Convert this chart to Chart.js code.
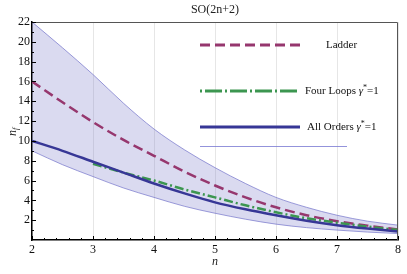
<!DOCTYPE html>
<html lang="en">
<head>
  <meta charset="UTF-8">
  <title>SO(2n+2)</title>
  <script src="https://cdn.jsdelivr.net/npm/chart.js@4.4.0/dist/chart.umd.min.js"></script>
  <style>
    html, body { margin: 0; padding: 0; background: #fff; }
    #chart { display: block; }
  </style>
</head>
<body>
<canvas id="chart" width="407" height="274"></canvas>

<script>
// values
const nValues   = [2, 2.5, 3, 3.5, 4, 4.5, 5, 5.5, 6, 6.5, 7, 7.5, 8];
const bandUpper = [22, 19.4, 16.7, 13.8, 11.2, 9.1, 7.3, 5.7, 4.3, 3.3, 2.5, 1.9, 1.5];
const bandLower = [9.0, 7.6, 6.4, 5.25, 4.3, 3.4, 2.7, 2.1, 1.6, 1.25, 1.0, 0.8, 0.65];
const ladder    = [16, 13.9, 11.9, 10.1, 8.5, 6.9, 5.5, 4.3, 3.3, 2.5, 1.9, 1.45, 1.05];
const fourLoops = [null, null, 7.7, 6.8, 6.0, 5.1, 4.3, 3.5, 2.8, 2.2, 1.75, 1.35, 1.0];
const allOrders = [10, 9.0, 7.9, 6.8, 5.7, 4.7, 3.8, 3.1, 2.5, 1.95, 1.5, 1.15, 0.85];
const xTicks = [2, 3, 4, 5, 6, 7, 8];
const yTicks = [2, 4, 6, 8, 10, 12, 14, 16, 18, 20, 22];

const colLadder = 'rgb(150,55,110)';
const colFour = 'rgb(60,150,80)';
const colAll = 'rgb(55,55,150)';

function pts(ys) {
  const out = [];
  nValues.forEach((n, i) => { if (ys[i] !== null) out.push({x: n, y: ys[i]}); });
  return out;
}

const serif = '"Liberation Serif", "DejaVu Serif", serif';

// title, axis names, frame, inner ticks and the legend box
const decor = {
  id: 'decor',
  afterDraw(chart) {
    const c = chart.ctx;
    const a = chart.chartArea;
    const xs = chart.scales.x, ys = chart.scales.y;
    c.save();

    // top and right frame
    c.strokeStyle = '#555';
    c.lineWidth = 1;
    c.beginPath();
    c.moveTo(a.left, a.top + 0.5);
    c.lineTo(a.right - 0.5, a.top + 0.5);
    c.lineTo(a.right - 0.5, a.bottom);
    c.stroke();

    // inward ticks
    c.strokeStyle = '#000';
    c.lineWidth = 1;
    c.beginPath();
    for (let v = 2; v <= 8.001; v += 0.2) {
      const px = Math.round(xs.getPixelForValue(v)) + 0.5;
      const major = Math.abs(v - Math.round(v)) < 0.01;
      c.moveTo(px, a.bottom);
      c.lineTo(px, a.bottom - (major ? 4 : 2));
    }
    for (let v = 1; v <= 22; v += 1) {
      const py = Math.round(ys.getPixelForValue(v)) + 0.5;
      c.moveTo(a.left, py);
      c.lineTo(a.left + (v % 2 === 0 ? 4 : 2), py);
    }
    c.stroke();

    // title
    c.fillStyle = '#222';
    c.font = '12px ' + serif;
    c.textAlign = 'center';
    c.textBaseline = 'middle';
    c.fillText('SO(2n+2)', 215, 10);

    // x axis name
    c.font = 'italic 12px ' + serif;
    c.fillText('n', 215, 262);

    // y axis name n_f
    c.translate(13, 131);
    c.rotate(-Math.PI / 2);
    c.textAlign = 'left';
    c.fillText('n', -5, 0);
    c.font = 'italic 8px ' + serif;
    c.fillText('f', 1, 3);
    c.setTransform(1, 0, 0, 1, 0, 0);

    // legend
    function sample(y, color, dash, width) {
      c.strokeStyle = color;
      c.lineWidth = width;
      c.setLineDash(dash);
      c.beginPath();
      c.moveTo(200, y);
      c.lineTo(300, y);
      c.stroke();
      c.setLineDash([]);
    }
    sample(45, colLadder, [10, 5], 3);
    sample(91, colFour, [2, 3, 17, 3], 3);
    sample(127, colAll, [], 3);
    c.strokeStyle = 'rgba(120,120,210,0.8)';
    c.lineWidth = 1;
    c.beginPath();
    c.moveTo(200, 146.5);
    c.lineTo(347, 146.5);
    c.stroke();

    c.fillStyle = '#111';
    c.textAlign = 'left';
    c.textBaseline = 'middle';
    c.font = '11px ' + serif;
    c.fillText('Ladder', 326, 45);

    function gammaLabel(text, x, y) {
      c.font = '11px ' + serif;
      c.fillText(text + ' ', x, y);
      let w = c.measureText(text + ' ').width;
      c.font = 'italic 11px ' + serif;
      c.fillText('γ', x + w, y);
      w += c.measureText('γ').width;
      c.font = '8px ' + serif;
      c.fillText('*', x + w, y - 3);
      w += c.measureText('*').width;
      c.font = '11px ' + serif;
      c.fillText('=1', x + w, y);
    }
    gammaLabel('Four Loops', 305, 91);
    gammaLabel('All Orders', 307, 127);

    c.restore();
  }
};

const ctx = document.getElementById('chart').getContext('2d');
const myChart = new Chart(ctx, {
  type: 'line',
  data: {
    datasets: [
      {
        label: 'All Orders',
        data: pts(allOrders),
        borderColor: colAll,
        borderWidth: 2.5,
        pointRadius: 0,
        fill: false,
        cubicInterpolationMode: 'monotone'
      },
      {
        label: 'Four Loops',
        data: pts(fourLoops),
        borderColor: colFour,
        borderWidth: 2.5,
        borderDash: [9, 3, 2, 3],
        pointRadius: 0,
        fill: false,
        cubicInterpolationMode: 'monotone'
      },
      {
        label: 'Ladder',
        data: pts(ladder),
        borderColor: colLadder,
        borderWidth: 2.5,
        borderDash: [10, 5],
        pointRadius: 0,
        fill: false,
        cubicInterpolationMode: 'monotone'
      },
      {
        label: 'upper',
        data: pts(bandUpper),
        borderColor: 'rgba(110,110,200,0.85)',
        borderWidth: 0.8,
        backgroundColor: 'rgba(120,120,200,0.27)',
        pointRadius: 0,
        fill: '+1',
        cubicInterpolationMode: 'monotone'
      },
      {
        label: 'lower',
        data: pts(bandLower),
        borderColor: 'rgba(110,110,200,0.85)',
        borderWidth: 0.8,
        pointRadius: 0,
        fill: false,
        cubicInterpolationMode: 'monotone'
      }
    ]
  },
  options: {
    responsive: false,
    animation: false,
    layout: { padding: { top: 22, right: 9, left: 0, bottom: 0 } },
    plugins: {
      legend: { display: false },
      tooltip: { enabled: false },
      title: { display: false }
    },
    scales: {
      x: {
        type: 'linear',
        min: 2,
        max: 8,
        afterBuildTicks: s => { s.ticks = xTicks.map(v => ({value: v})); },
        afterFit: s => { s.height = 34; },
        grid: { color: '#e6e6e6', drawTicks: false, lineWidth: 1 },
        border: { color: '#000', width: 1.5 },
        ticks: { color: '#111', padding: 3, font: { family: serif, size: 12 } }
      },
      y: {
        type: 'linear',
        min: 0,
        max: 22,
        afterBuildTicks: s => { s.ticks = yTicks.map(v => ({value: v})); },
        afterFit: s => { s.width = 32; },
        grid: { display: false, drawTicks: false },
        border: { color: '#000', width: 1.5 },
        ticks: { color: '#111', padding: 2, font: { family: serif, size: 12 } }
      }
    }
  },
  plugins: [decor]
});
</script>
</body>
</html>
